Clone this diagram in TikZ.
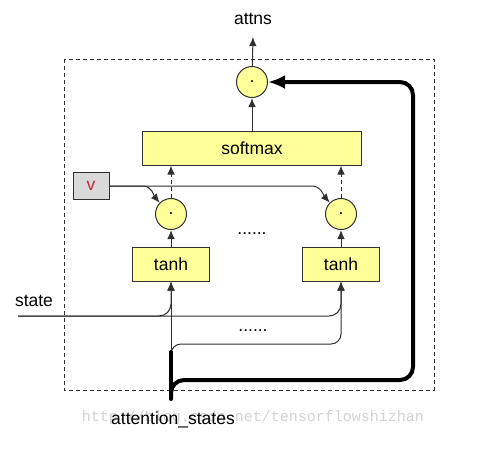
\documentclass[tikz,border=0pt]{standalone}
\usepackage{fontspec}
\setmainfont{Liberation Sans}
\newfontfamily\markfont{Liberation Mono}
\usetikzlibrary{arrows.meta, calc}
\definecolor{boxyellow}{RGB}{255,255,153}
\definecolor{boxgrey}{RGB}{217,217,217}
\definecolor{linegrey}{RGB}{48,48,48}
\definecolor{vred}{RGB}{196,40,52}
\tikzset{
  label_font/.style = {font=\fontsize{17.5}{20}\selectfont},
  box_border/.style = {draw=linegrey, line width=1pt}
}
\tikzset{
  op/.style = {label_font, box_border, circle, fill=boxyellow, minimum size=31, inner sep=0},
  fn_box/.style = {label_font, box_border, fill=boxyellow, minimum height=34, inner sep=0},
  v_box/.style = {label_font, box_border, fill=boxgrey, text=vred, minimum width=36, minimum height=27, inner sep=0},
  plain/.style = {label_font, inner sep=0},
  thin_line/.style = {draw=linegrey, line width=1pt},
  arrow/.style = {thin_line, -{Latex[length=9pt, width=7.5pt]}},
  dash_arrow/.style = {arrow, dash pattern=on 4pt off 3pt},
  heavy/.style = {draw=black, line width=4pt},
  frame/.style = {draw=linegrey, line width=1pt, dash pattern=on 4pt off 3pt}
}
\begin{document}
\begin{tikzpicture}[x=1pt, y=-1pt]
        \useasboundingbox (0,0) rectangle (478,448);

        % watermark
        \node[inner sep=0, text=black!18, font=\markfont\fontsize{15}{18}\selectfont] (mark) at (253,418) {http://blog.csdn.net/tensorflowshizhan};

        % Frame
        \draw[frame] (64,59) rectangle (434,390);

        % Operations
        \node[op] (dot_top) at (252,82) {.};
        \node[fn_box, minimum width=219] (softmax) at (252,148) {softmax};
        \node[op] (dot_l) at (171,214) {.};
        \node[op] (dot_r) at (341,214) {.};
        \node[fn_box, minimum width=77] (tanh_l) at (171,264) {tanh};
        \node[fn_box, minimum width=77] (tanh_r) at (341,264) {tanh};
        \node[v_box] (v) at (91,186) {v};

        % Texts
        \node[plain] (attns) at (253,19) {attns};
        \node[plain] (state) at (34,301) {state};
        \node[plain] (att_states) at (173,420) {attention\_states};
        \node[plain] (dots_mid) at (252,234) {......};
        \node[plain] (dots_low) at (253,331) {......};

        % Free ends
        \coordinate (attns_in) at (253,37);
        \coordinate (state_in) at (18,316);
        \coordinate (att_in) at (171,399);
        \coordinate (att_top) at (171,352);
        \coordinate (branch_r) at (341,344);
        \coordinate (loop_br) at (413,380);
        \coordinate (v_bend_l) at (143,186);
        \coordinate (v_bend_r) at (312,186);

        % Arrows and lines
        \draw[arrow] (dot_top) -- (attns_in);
        \draw[arrow] (softmax) -- (dot_top);

        \draw[dash_arrow] (dot_l) -- (dot_l |- softmax.south);
        \draw[dash_arrow] (dot_r) -- (dot_r |- softmax.south);

        \draw[arrow] (tanh_l) -- (dot_l);
        \draw[arrow] (tanh_r) -- (dot_r);

        \draw[arrow] (v.east) -- (v_bend_l) .. controls (152,186) and (154,196) .. (dot_l.north west);
        \draw[arrow] (v.east) -- (v_bend_r) .. controls (321,186) and (324,196) .. (dot_r.north west);

        \draw[arrow, rounded corners=12] (state_in) -| (tanh_l.south);
        \draw[arrow, rounded corners=12] (state_in) -| (tanh_r.south);

        \draw[arrow] (att_top) -- (tanh_l.south);
        \draw[arrow, rounded corners=10] (att_top) |- (branch_r) -- (tanh_r.south);

        \draw[heavy, line cap=round] (att_in) -- (att_top);
        \draw[heavy, rounded corners=13, -{Latex[length=17pt, width=14pt]}] (att_in) |- (loop_br) |- (dot_top.east);
\end{tikzpicture}
\end{document}
